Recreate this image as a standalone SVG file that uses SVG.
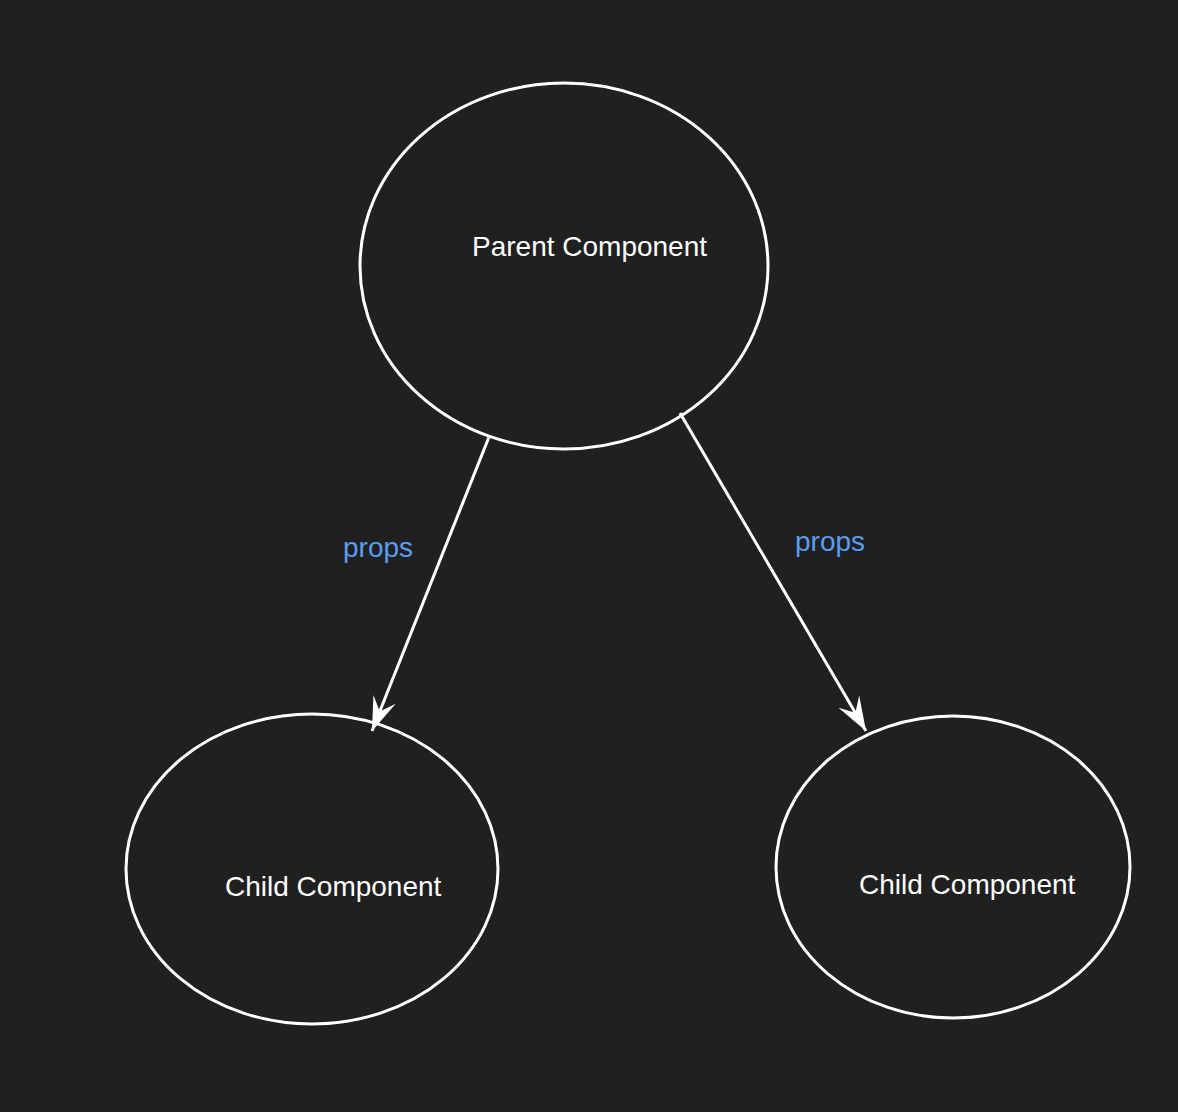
<svg xmlns="http://www.w3.org/2000/svg" width="1178" height="1112" viewBox="0 0 1178 1112">
  <style>
    .node { fill: none; stroke: #ffffff; stroke-width: 3; }
    .label { fill: #ffffff; font-family: "Liberation Sans", Arial, sans-serif; font-size: 28px; }
    .edge { stroke: #ffffff; stroke-width: 3; fill: none; }
    .elabel { fill: #5a9cf2; font-family: "Liberation Sans", Arial, sans-serif; font-size: 28px; }
  </style>
  <defs>
    <marker id="arrow" markerUnits="userSpaceOnUse" viewBox="-40 -16 44 32" markerWidth="44" markerHeight="32" refX="0" refY="0" orient="auto" overflow="visible">
      <path d="M 0 0 L -34 -12 L -21 0 L -34 12 Z" fill="#ffffff"/>
    </marker>
  </defs>
  <rect x="0" y="0" width="1178" height="1112" fill="#202020"/>
  <g id="connectors">
    <line class="edge" x1="489" y1="437" x2="372" y2="731" marker-end="url(#arrow)"/>
    <line class="edge" x1="680" y1="413" x2="866" y2="731" marker-end="url(#arrow)"/>
    <text class="elabel" x="343" y="557">props</text>
    <text class="elabel" x="795" y="551">props</text>
  </g>
  <g id="parent">
    <ellipse class="node" cx="564" cy="266" rx="204" ry="183"/>
    <text class="label" x="472" y="256">Parent Component</text>
  </g>
  <g id="child1">
    <ellipse class="node" cx="312" cy="869" rx="186" ry="155"/>
    <text class="label" x="225" y="896">Child Component</text>
  </g>
  <g id="child2">
    <ellipse class="node" cx="953" cy="867" rx="177" ry="151"/>
    <text class="label" x="859" y="894">Child Component</text>
  </g>
</svg>
